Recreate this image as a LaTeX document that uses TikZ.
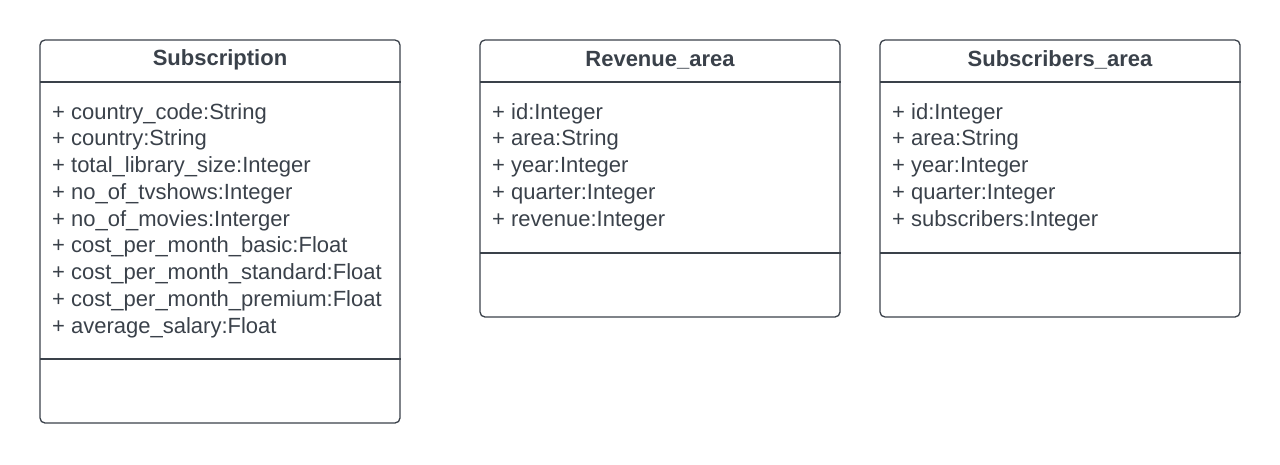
\documentclass[tikz,border=0pt]{standalone}
\usepackage{fontspec}
\setmainfont{Liberation Sans}
\usetikzlibrary{positioning}
\definecolor{ink}{HTML}{3A414A}
\begin{document}
\begin{tikzpicture}
	[x=1pt, y=1pt,
	every node/.style={text=ink},
	classbox/.style={draw=ink, line width=1.3pt, rounded corners=5pt, minimum width=360pt, inner sep=0pt},
	classname/.style={font=\bfseries\fontsize{22}{26}\selectfont, inner sep=0pt},
	members/.style={align=left, anchor=north west, inner sep=0pt, font=\fontsize{22}{26.75}\selectfont},
	divider/.style={draw=ink, line width=1.3pt}]
	\useasboundingbox (0,0) rectangle (1280,-464);
	% Subscription
	\node[classbox, minimum height=383pt] (sub) at (220,-231.5) {};
	\node[classname] (subName) at (220,-60) {Subscription};
	\coordinate (subTop) at (40,-82);
	\coordinate (subBot) at (40,-359);
	\draw[divider] (subTop) -- (subTop -| sub.east);
	\draw[divider] (subBot) -- (subBot -| sub.east);
	\node[members] (subAttr) at (52,-103)
	{+ country\_code:String\\
	+ country:String\\
	+ total\_library\_size:Integer\\
	+ no\_of\_tvshows:Integer\\
	+ no\_of\_movies:Interger\\
	+ cost\_per\_month\_basic:Float\\
	+ cost\_per\_month\_standard:Float\\
	+ cost\_per\_month\_premium:Float\\
	+ average\_salary:Float};
	% Revenue_area
	\node[classbox, minimum height=277pt] (rev) at (660,-178.5) {};
	\node[classname] (revName) at (660,-60) {Revenue\_area};
	\coordinate (revTop) at (480,-82);
	\coordinate (revBot) at (480,-253);
	\draw[divider] (revTop) -- (revTop -| rev.east);
	\draw[divider] (revBot) -- (revBot -| rev.east);
	\node[members] (revAttr) at (492,-103)
	{+ id:Integer\\
	+ area:String\\
	+ year:Integer\\
	+ quarter:Integer\\
	+ revenue:Integer};
	% Subscribers_area
	\node[classbox, minimum height=277pt] (subs) at (1060,-178.5) {};
	\node[classname] (subsName) at (1060,-60) {Subscribers\_area};
	\coordinate (subsTop) at (880,-82);
	\coordinate (subsBot) at (880,-253);
	\draw[divider] (subsTop) -- (subsTop -| subs.east);
	\draw[divider] (subsBot) -- (subsBot -| subs.east);
	\node[members] (subsAttr) at (892,-103)
	{+ id:Integer\\
	+ area:String\\
	+ year:Integer\\
	+ quarter:Integer\\
	+ subscribers:Integer};
\end{tikzpicture}
\end{document}
